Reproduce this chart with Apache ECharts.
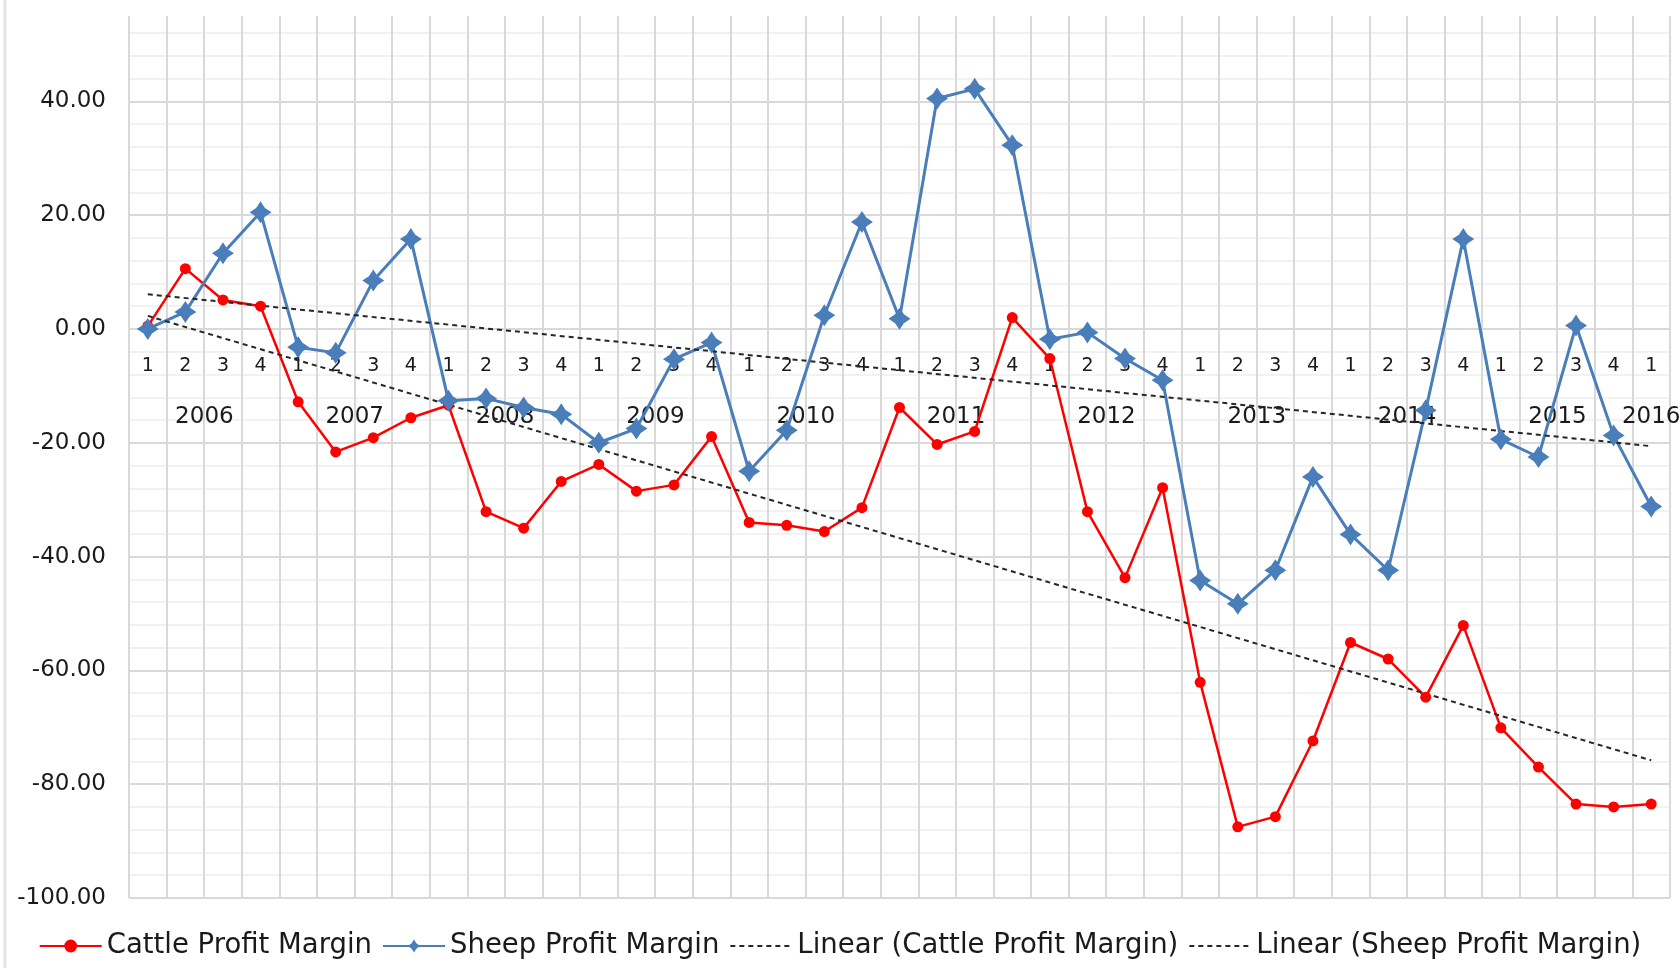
<!DOCTYPE html>
<html>
<head>
<meta charset="utf-8">
<title>Cattle and Sheep Profit Margin</title>
<script src="https://cdn.jsdelivr.net/npm/echarts@6/dist/echarts.min.js"></script>
<style>
  html, body { margin: 0; padding: 0; background: #fff; }
  #container { width: 1680px; height: 968px; }
</style>
</head>
<body>
<div id="container"></div>
<script>
var years = ['2006', '2007', '2008', '2009', '2010', '2011', '2012', '2013', '2014', '2015', '2016'];
var quarters = ['1', '2', '3', '4'];

var cattleMargin = [0.5, 10.6, 5.1, 4.0,
    -12.8, -21.6, -19.1, -15.6,
    -13.4, -32.1, -35.0, -26.8,
    -23.8, -28.5, -27.4, -18.9,
    -34.0, -34.5, -35.6, -31.4,
    -13.8, -20.3, -18.0, 2.0,
    -5.2, -32.1, -43.7, -27.9,
    -62.1, -87.5, -85.7, -72.4,
    -55.1, -58.0, -64.7, -52.1,
    -70.1, -77.0, -83.5, -84.0,
    -83.5];
var sheepMargin = [0.0, 3.0, 13.3, 20.5,
    -3.2, -4.2, 8.5, 15.8,
    -12.6, -12.2, -13.8, -15.0,
    -20.0, -17.5, -5.3, -2.4,
    -25.0, -17.8, 2.4, 18.8,
    1.8, 40.5, 42.2, 32.3,
    -1.8, -0.6, -5.2, -9.0,
    -44.2, -48.3, -42.4, -26.0,
    -36.1, -42.4, -14.3, 15.8,
    -19.4, -22.5, 0.6, -18.7,
    -31.2];

// trend line ends, read at first and last quarter
var cattleTrend = [2.3, -75.8];
var sheepTrend = [6.1, -20.6];

var yMin = -100, yMax = 55;

// one category per quarter, 2016 only has Q1
var categories = [];
var quarterLabels = [];
var yearLabels = [];
for (var y = 0; y < years.length; y++) {
    var n = (y == years.length - 1) ? 1 : 4;
    for (var q = 0; q < n; q++) {
        categories.push(years[y] + ' Q' + quarters[q]);
        quarterLabels.push(quarters[q]);
        if (n == 1) {
            yearLabels.push('{c|' + years[y] + '}');
        } else if (q == 1) {
            yearLabels.push('{s|' + years[y] + '}');
        } else {
            yearLabels.push('');
        }
    }
}
var last = categories.length - 1;

var starPath = 'path://M0,-10 L4,-4 L10,0 L4,4 L0,10 L-4,4 L-10,0 L-4,-4 Z';
var textColor = '#1a1a1a';
var fontName = 'DejaVu Sans';

var gridTop = 16, gridBottom = 70;
// category labels sit on the zero line (Excel "axis crosses at 0")
var plotHeight = 968 - gridTop - gridBottom;
var zeroOffset = -plotHeight * (0 - yMin) / (yMax - yMin);

var dom = document.getElementById('container');
var myChart = echarts.init(dom, null, {renderer: 'canvas'});

var option = {
    backgroundColor: '#fff',
    animation: false,
    grid: {
        left: 129,
        right: 10,
        top: gridTop,
        bottom: gridBottom,
        outerBoundsMode: 'none'
    },
    legend: {
        bottom: 3,
        left: 'center',
        itemWidth: 62,
        itemHeight: 16,
        itemGap: 10,
        textStyle: {
            fontFamily: fontName,
            fontSize: 27.5,
            color: textColor
        },
        data: [
            'Cattle Profit Margin',
            'Sheep Profit Margin',
            {name: 'Linear (Cattle Profit Margin)', itemStyle: {color: 'rgba(0,0,0,0)', borderWidth: 0}},
            {name: 'Linear (Sheep Profit Margin)', itemStyle: {color: 'rgba(0,0,0,0)', borderWidth: 0}}
        ]
    },
    graphic: [{
        type: 'line',
        shape: {x1: 5, y1: 0, x2: 5, y2: 968},
        style: {stroke: '#e3e3e3', lineWidth: 3}
    }],
    xAxis: [{
        type: 'category',
        data: categories,
        boundaryGap: true,
        offset: zeroOffset,
        axisLine: {
            onZero: false,
            lineStyle: {color: '#d9d9d9', width: 2}
        },
        axisTick: {show: false},
        axisLabel: {
            interval: 0,
            margin: 28,
            fontFamily: fontName,
            fontSize: 19,
            color: textColor,
            formatter: function (value, index) {
                return quarterLabels[index];
            }
        },
        splitLine: {
            show: true,
            interval: 0,
            lineStyle: {color: '#d9d9d9', width: 2}
        }
    }, {
        type: 'category',
        data: categories,
        boundaryGap: true,
        position: 'bottom',
        offset: zeroOffset,
        axisLine: {
            onZero: false,
            lineStyle: {opacity: 0}
        },
        axisTick: {show: false},
        splitLine: {show: false},
        axisLabel: {
            interval: 0,
            margin: 77,
            formatter: function (value, index) {
                return yearLabels[index];
            },
            rich: {
                s: {
                    fontFamily: fontName,
                    fontSize: 23,
                    color: textColor,
                    padding: [0, 0, 0, 38]
                },
                c: {
                    fontFamily: fontName,
                    fontSize: 23,
                    color: textColor
                }
            }
        }
    }],
    yAxis: {
        type: 'value',
        min: yMin,
        max: yMax,
        interval: 4,
        axisLine: {show: false},
        axisTick: {show: false},
        axisLabel: {
            margin: 23,
            fontFamily: fontName,
            fontSize: 23,
            color: textColor,
            showMaxLabel: false,
            formatter: function (value) {
                var v = Math.round(value);
                return (v % 20 === 0) ? v.toFixed(2) : '';
            }
        },
        splitLine: {
            show: true,
            showMaxLine: false,
            lineStyle: {
                color: ['#d9d9d9', '#f2f2f2', '#f2f2f2', '#f2f2f2', '#f2f2f2'],
                width: 2
            }
        }
    },
    series: [{
        name: 'Cattle Profit Margin',
        type: 'line',
        data: cattleMargin,
        symbol: 'circle',
        symbolSize: 11,
        itemStyle: {color: '#ff0000'},
        lineStyle: {color: '#ff0000', width: 2.5}
    }, {
        name: 'Sheep Profit Margin',
        type: 'line',
        data: sheepMargin,
        symbol: starPath,
        symbolSize: 22,
        itemStyle: {color: '#4a7ebb'},
        lineStyle: {color: '#4a7ebb', width: 3}
    }, {
        name: 'Linear (Cattle Profit Margin)',
        type: 'line',
        data: [[0, cattleTrend[0]], [last, cattleTrend[1]]],
        symbol: 'none',
        itemStyle: {color: '#262626'},
        lineStyle: {color: '#262626', width: 2, type: [5, 4]}
    }, {
        name: 'Linear (Sheep Profit Margin)',
        type: 'line',
        data: [[0, sheepTrend[0]], [last, sheepTrend[1]]],
        symbol: 'none',
        itemStyle: {color: '#262626'},
        lineStyle: {color: '#262626', width: 2, type: [5, 4]}
    }]
};

if (option && typeof option === 'object') {
    myChart.setOption(option, true);
}
</script>
</body>
</html>
